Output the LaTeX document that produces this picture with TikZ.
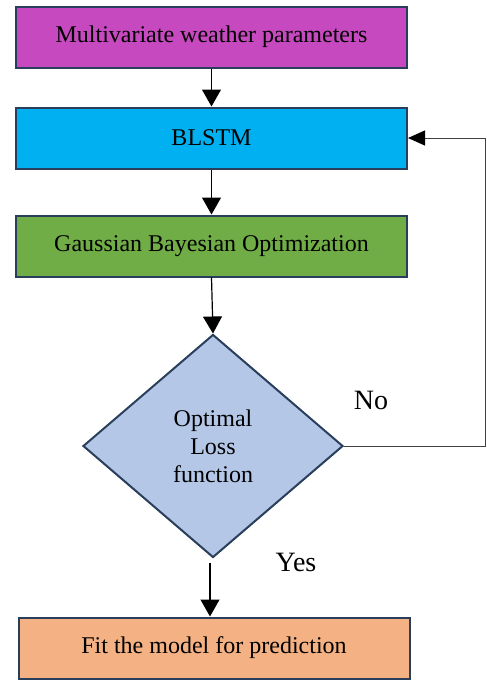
\documentclass[tikz,border=0pt]{standalone}
\usepackage{fontspec}
\setmainfont{Liberation Serif}
\usetikzlibrary{arrows.meta, positioning, calc, shapes.geometric}
\definecolor{wxMagenta}{RGB}{199,73,191}
\definecolor{wxCyan}{RGB}{0,176,240}
\definecolor{wxGreen}{RGB}{112,173,71}
\definecolor{wxDiamond}{RGB}{180,199,231}
\definecolor{wxOrange}{RGB}{244,177,131}
\definecolor{wxEdge}{RGB}{40,62,90}

\begin{document}
\begin{tikzpicture}[
    x=0.5pt, y=-0.5pt,
    font=\fontsize{12}{14}\selectfont,
    stage/.style={draw=wxEdge, line width=1pt, minimum width=195.5pt,
                  minimum height=30.5pt, inner sep=0pt, align=center},
    check/.style={diamond, draw=wxEdge, line width=1pt, fill=wxDiamond,
                  minimum width=130pt, minimum height=111.5pt,
                  inner sep=0pt, align=center},
    flow/.style={-{Triangle[width=9.5pt, length=8.5pt]}, line width=0.6pt},
    back/.style={-{Triangle[width=7.5pt, length=8.5pt, color=black]},
                 line width=0.5pt, draw=black!75},
    tag/.style={font=\fontsize{14}{16}\selectfont}
]
\useasboundingbox (0,0) rectangle (487,680);

% main column of stages
\node[stage, fill=wxMagenta] (input) at (211.5,37)  {Multivariate weather parameters};
\node[stage, fill=wxCyan]    (blstm) at (211.5,138) {BLSTM};
\node[stage, fill=wxGreen]   (gbo)   at (211.5,246) {Gaussian Bayesian Optimization};
\node[check]                 (dec)   at (213,446)   {Optimal\\Loss\\function};
\node[stage, fill=wxOrange]  (fit)   at (214,648)   {Fit the model for prediction};

\draw[flow] (input) -- (blstm);
\draw[flow] (blstm) -- (gbo);
\draw[flow] (gbo.south) -- (dec.north);
\draw[flow] ($(dec.south)+(-3,4)$) -- ($(dec.south |- fit.north)+(-3,0)$);

% loop back when the loss is not optimal
\coordinate (loop) at (485,446);
\draw[back] (dec.east) -- (loop) |- (blstm.east);

\node[tag] (no)  at (371,400) {No};
\node[tag] (yes) at (296,562) {Yes};

\end{tikzpicture}
\end{document}
